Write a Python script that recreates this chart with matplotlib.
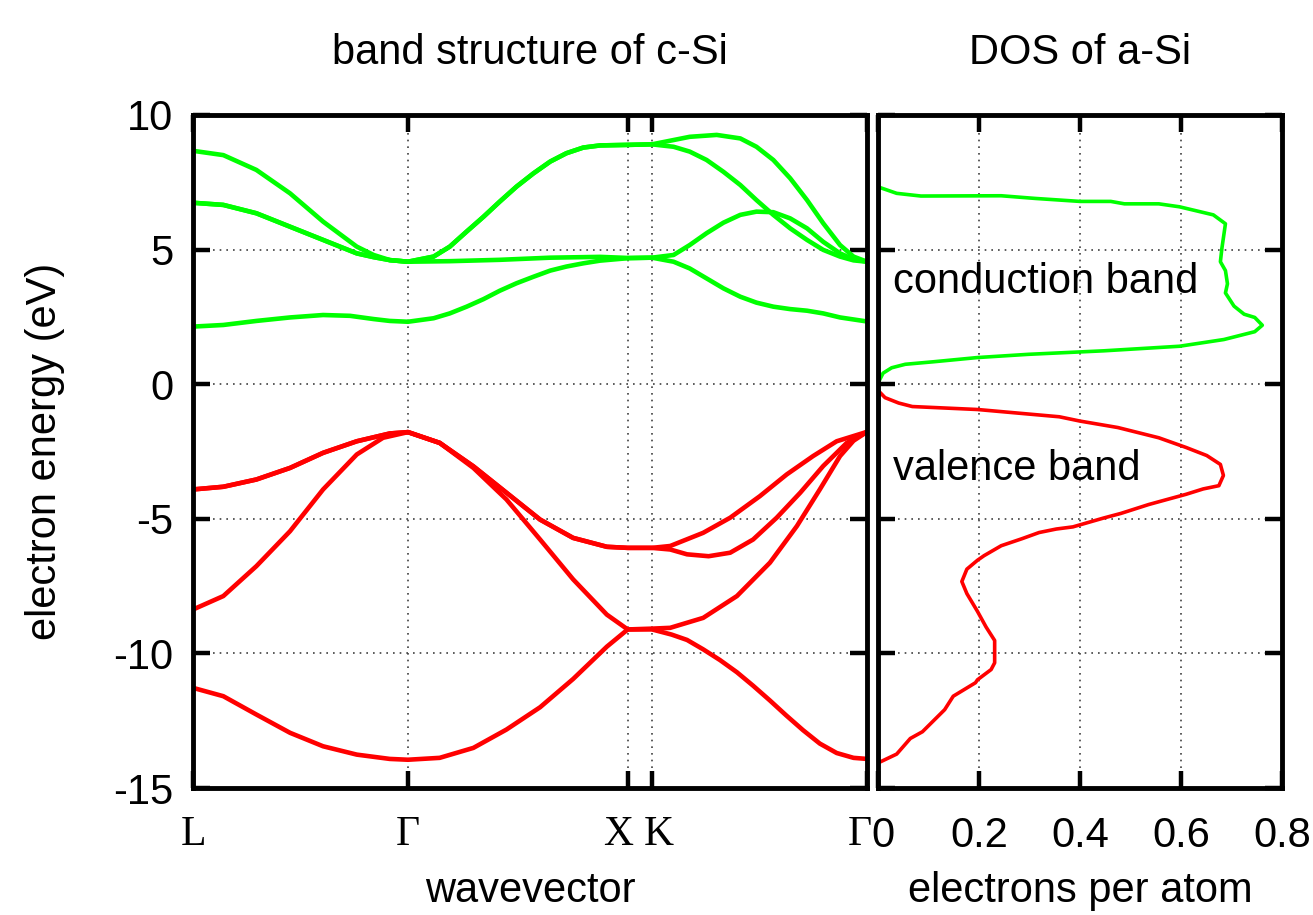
import matplotlib
matplotlib.use("Agg")
import matplotlib.pyplot as plt
from matplotlib.transforms import ScaledTranslation

plt.rcParams['font.family'] = ['Liberation Sans', 'DejaVu Sans']
plt.rcParams['axes.unicode_minus'] = False

# ---------------- data ----------------
# high-symmetry points (fraction of path length)
sym_pos = [0.0, 0.319, 0.645, 0.681, 1.0]
sym_labels = ['L', 'Γ', 'X', 'K', 'Γ']

# conduction bands (c-Si)
c1_k = [0, 0.045, 0.094, 0.144, 0.193, 0.233, 0.268, 0.292, 0.319, 0.357, 0.381, 0.406, 0.431, 0.455,
        0.480, 0.505, 0.530, 0.554, 0.579, 0.604, 0.645, 0.681, 0.713, 0.737, 0.762, 0.787, 0.812,
        0.836, 0.861, 0.886, 0.911, 0.935, 0.960, 1.0]
c1_E = [2.14, 2.20, 2.35, 2.48, 2.57, 2.54, 2.42, 2.35, 2.32, 2.45, 2.63, 2.88, 3.16, 3.47,
        3.75, 3.99, 4.22, 4.37, 4.49, 4.59, 4.68, 4.70, 4.55, 4.30, 3.93, 3.56, 3.25,
        3.03, 2.88, 2.79, 2.73, 2.63, 2.48, 2.33]

c2_k = [0, 0.045, 0.094, 0.144, 0.193, 0.243, 0.268, 0.292, 0.319, 0.381, 0.455, 0.530, 0.604, 0.645,
        0.681, 0.713, 0.737, 0.762, 0.787, 0.812, 0.836, 0.861, 0.886, 0.911, 0.935, 0.960, 0.980, 1.0]
c2_E = [6.74, 6.66, 6.35, 5.85, 5.36, 4.86, 4.72, 4.61, 4.55, 4.57, 4.62, 4.70, 4.73, 4.69,
        4.70, 4.80, 5.17, 5.61, 6.00, 6.29, 6.41, 6.39, 6.16, 5.79, 5.29, 4.86, 4.64, 4.55]

c3_k = [0, 0.045, 0.094, 0.144, 0.193, 0.243, 0.268, 0.292, 0.319, 0.357, 0.381, 0.406, 0.431, 0.455,
        0.480, 0.505, 0.530, 0.554, 0.579, 0.604, 0.645, 0.681, 0.713, 0.737, 0.762, 0.787, 0.812,
        0.836, 0.861, 0.886, 0.911, 0.935, 0.960, 0.980, 1.0]
c3_E = [6.74, 6.66, 6.35, 5.85, 5.36, 4.86, 4.72, 4.61, 4.55, 4.74, 5.11, 5.67, 6.22, 6.78,
        7.34, 7.83, 8.27, 8.58, 8.79, 8.87, 8.89, 8.91, 8.82, 8.64, 8.33, 7.89, 7.40,
        6.84, 6.29, 5.79, 5.36, 4.99, 4.74, 4.60, 4.55]

c4_k = [0, 0.045, 0.094, 0.144, 0.193, 0.243, 0.268, 0.292, 0.319, 0.357, 0.381, 0.406, 0.431, 0.455,
        0.480, 0.505, 0.530, 0.554, 0.579, 0.604, 0.645, 0.681, 0.713, 0.737, 0.777, 0.812,
        0.836, 0.861, 0.886, 0.911, 0.935, 0.960, 0.980, 1.0]
c4_E = [8.67, 8.51, 7.96, 7.09, 6.04, 5.11, 4.80, 4.61, 4.55, 4.74, 5.11, 5.67, 6.22, 6.78,
        7.34, 7.83, 8.27, 8.58, 8.79, 8.87, 8.89, 8.91, 9.07, 9.19, 9.26, 9.13,
        8.82, 8.33, 7.65, 6.84, 5.98, 5.17, 4.74, 4.55]

# valence bands (c-Si)
v1_k = [0, 0.045, 0.094, 0.144, 0.193, 0.243, 0.292, 0.319, 0.366, 0.416, 0.465, 0.515, 0.564, 0.614,
        0.645, 0.681, 0.710, 0.733, 0.757, 0.782, 0.807, 0.831, 0.856, 0.880, 0.905, 0.930, 0.955,
        0.980, 1.0]
v1_E = [-11.28, -11.59, -12.27, -12.95, -13.45, -13.76, -13.92, -13.95, -13.88, -13.51, -12.83,
        -12.00, -10.95, -9.75, -9.11, -9.11, -9.30, -9.50, -9.85, -10.25, -10.70, -11.20, -11.75,
        -12.30, -12.85, -13.35, -13.70, -13.88, -13.92]

v2_k = [0, 0.045, 0.094, 0.144, 0.193, 0.243, 0.282, 0.319, 0.366, 0.416, 0.465, 0.515, 0.564, 0.614,
        0.645, 0.681, 0.708, 0.757, 0.807, 0.856, 0.896, 0.930, 0.960, 0.980, 1.0]
v2_E = [-8.37, -7.87, -6.76, -5.46, -3.91, -2.61, -1.99, -1.78, -2.18, -3.11, -4.28, -5.77, -7.25,
        -8.56, -9.11, -9.08, -9.05, -8.68, -7.87, -6.63, -5.27, -3.91, -2.67, -2.10, -1.77]

v3_k = [0, 0.045, 0.094, 0.144, 0.193, 0.243, 0.292, 0.319, 0.366, 0.416, 0.465, 0.515, 0.564, 0.614,
        0.645, 0.681, 0.708, 0.733, 0.765, 0.797, 0.831, 0.866, 0.901, 0.935, 0.970, 1.0]
v3_E = [-3.91, -3.81, -3.54, -3.11, -2.55, -2.12, -1.83, -1.78, -2.18, -3.05, -4.03, -5.03, -5.71,
        -6.04, -6.08, -6.08, -6.14, -6.32, -6.39, -6.26, -5.77, -4.96, -4.03, -3.04, -2.18, -1.77]

v4_k = [0, 0.045, 0.094, 0.144, 0.193, 0.243, 0.292, 0.319, 0.366, 0.416, 0.465, 0.515, 0.564, 0.614,
        0.645, 0.681, 0.708, 0.757, 0.797, 0.841, 0.881, 0.920, 0.955, 1.0]
v4_E = [-3.91, -3.81, -3.54, -3.11, -2.55, -2.12, -1.83, -1.78, -2.18, -3.05, -4.03, -5.03, -5.71,
        -6.04, -6.08, -6.08, -6.01, -5.52, -4.96, -4.16, -3.35, -2.67, -2.12, -1.77]

# DOS of a-Si (electrons per atom vs energy)
dos_cb = [0.0, 0.037, 0.085, 0.244, 0.312, 0.400, 0.461, 0.488, 0.556, 0.597, 0.664, 0.688, 0.681,
          0.678, 0.688, 0.692, 0.688, 0.705, 0.725, 0.746, 0.761, 0.746, 0.685, 0.597, 0.447, 0.298,
          0.197, 0.108, 0.054, 0.027, 0.010, 0.001]
E_cb = [7.33, 7.09, 6.99, 7.00, 6.90, 6.79, 6.79, 6.70, 6.70, 6.59, 6.29, 5.96, 5.05,
        4.55, 4.22, 3.73, 3.39, 2.90, 2.60, 2.48, 2.19, 1.95, 1.66, 1.41, 1.24, 1.11,
        0.99, 0.83, 0.74, 0.61, 0.41, 0.08]

dos_vb = [0.001, 0.014, 0.041, 0.068, 0.197, 0.359, 0.400, 0.475, 0.556, 0.610, 0.651, 0.678, 0.684,
          0.675, 0.644, 0.610, 0.569, 0.536, 0.481, 0.447, 0.386, 0.353, 0.319, 0.285, 0.244, 0.210,
          0.197, 0.176, 0.166, 0.176, 0.197, 0.214, 0.231, 0.231, 0.224, 0.197, 0.193, 0.149, 0.132,
          0.088, 0.064, 0.037, 0.0]
E_vb = [-0.25, -0.50, -0.70, -0.83, -0.94, -1.21, -1.37, -1.61, -1.99, -2.35, -2.65, -2.98, -3.39,
        -3.77, -3.89, -4.09, -4.30, -4.47, -4.80, -4.97, -5.30, -5.38, -5.51, -5.74, -6.00, -6.37,
        -6.54, -6.87, -7.33, -7.78, -8.44, -9.02, -9.52, -10.35, -10.60, -10.98, -11.09, -11.59, -12.09,
        -12.91, -13.16, -13.74, -14.07]

yticks = [-15, -10, -5, 0, 5, 10]
dos_ticks = [0, 0.2, 0.4, 0.6, 0.8]
dos_ticklabels = ['0', '0.2', '0.4', '0.6', '0.8']

# ---------------- figure ----------------
W, H = 1313, 915
fig = plt.figure(figsize=(W / 100, H / 100), dpi=100)

def frac(x0, y0, x1, y1):
    return [x0 / W, 1 - y1 / H, (x1 - x0) / W, (y1 - y0) / H]

ax1 = fig.add_axes(frac(193, 115, 867, 788))
ax2 = fig.add_axes(frac(878, 115, 1282, 788))

GREEN = '#00ff00'
RED = '#ff0000'
FS = 30

for k, E in [(c1_k, c1_E), (c2_k, c2_E), (c3_k, c3_E), (c4_k, c4_E)]:
    ax1.plot(k, E, color=GREEN, lw=3.3, solid_joinstyle='round', solid_capstyle='round', zorder=3)
for k, E in [(v1_k, v1_E), (v2_k, v2_E), (v3_k, v3_E), (v4_k, v4_E)]:
    ax1.plot(k, E, color=RED, lw=3.3, solid_joinstyle='round', solid_capstyle='round', zorder=3)

ax2.plot(dos_cb, E_cb, color=GREEN, lw=2.6, solid_joinstyle='round', zorder=3)
ax2.plot(dos_vb, E_vb, color=RED, lw=2.6, solid_joinstyle='round', zorder=3)

for ax in (ax1, ax2):
    ax.set_ylim(-15, 10)
    ax.set_yticks(yticks)
    for s in ax.spines.values():
        s.set_linewidth(3.5)
        s.set_zorder(5)
    ax.tick_params(direction='in', length=12, width=3.2, top=True, right=True,
                   labelsize=FS, pad=14)
    ax.grid(True, linestyle=(0, (1, 3)), color='0.25', lw=1.2)
    ax.set_axisbelow(True)

ax1.set_xlim(0, 1)
ax1.set_xticks(sym_pos)
ax1.set_xticklabels(sym_labels, fontfamily='Liberation Serif', fontsize=FS)
ax1.tick_params(axis='x', pad=20)
ax1.set_yticklabels([str(t) for t in yticks])
# small horizontal offsets of the crowded k-point labels (as in the reference)
label_shift_px = [0, 0, -10, 7, -7]
for lab, dx in zip(ax1.get_xticklabels(), label_shift_px):
    lab.set_transform(lab.get_transform() + ScaledTranslation(dx / 100, 0, fig.dpi_scale_trans))

ax2.set_xlim(0, 0.8)
ax2.set_xticks(dos_ticks)
ax2.set_xticklabels(dos_ticklabels)
ax2.tick_params(axis='x', pad=20)
ax2.tick_params(axis='y', labelleft=False)
lab0 = ax2.get_xticklabels()[0]
lab0.set_transform(lab0.get_transform() + ScaledTranslation(5 / 100, 0, fig.dpi_scale_trans))

ax1.set_title('band structure of c-Si', fontsize=FS, pad=37)
ax2.set_title('DOS of a-Si', fontsize=FS, pad=37)

ax1.set_ylabel('electron energy (eV)', fontsize=FS, va='center')
ax1.yaxis.set_label_coords(-0.2196, 0.5)
ax1.set_xlabel('wavevector', fontsize=FS, va='center')
ax1.xaxis.set_label_coords(0.5, -0.153)
ax2.set_xlabel('electrons per atom', fontsize=FS, va='center')
ax2.xaxis.set_label_coords(0.5, -0.153)

ax2.text(0.03, 3.8, 'conduction band', fontsize=FS, va='center', ha='left')
ax2.text(0.03, -3.15, 'valence band', fontsize=FS, va='center', ha='left')

fig.savefig('out.png', dpi=100)
